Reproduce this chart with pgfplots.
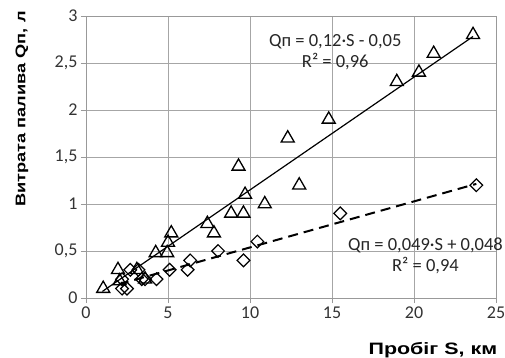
\documentclass[border=0pt]{standalone}
\usepackage{fontspec}
\setmainfont{Carlito}
\newfontfamily\labfont[FakeStretch=1.3]{Liberation Sans}
\usepackage{pgfplots}
\pgfplotsset{compat=1.18}
\begin{document}
\begin{tikzpicture}
\begin{axis}[
  scale only axis, width=410pt, height=282pt,
  xmin=0, xmax=25, ymin=0, ymax=3,
  xtick={0,5,...,25}, ytick={0,0.5,...,3},
  xtick pos=bottom, ytick pos=left,
  grid=major, grid style={draw=black!35, line width=0.8pt},
  axis line style={draw=black!40, line width=0.8pt},
  tick style={draw=black!40, line width=0.8pt},
  tick align=outside, major tick length=5pt,
  /pgf/number format/.cd, use comma, assume math mode=true, /pgfplots/.cd,
  ticklabel style={font=\fontsize{18}{18}\selectfont, color=black!80},
  xlabel={Пробіг S, км}, ylabel={Витрата палива Qп, л},
  xlabel style={font=\labfont\bfseries\fontsize{16.5}{16.5}\selectfont, at={(axis description cs:0.846,-0.184)}, anchor=center},
  ylabel style={font=\labfont\bfseries\fontsize{14}{14}\selectfont, at={(axis description cs:-0.156,0.670)}, anchor=center},
  clip=false,
]
\coordinate (bl) at (rel axis cs:0,0);
\coordinate (tr) at (rel axis cs:1,1);
% trend lines
\addplot[black, line width=1.2pt] coordinates {(1.0,0.07) (23.6,2.782)};
\addplot[black, line width=2pt, dash pattern=on 10pt off 6pt] coordinates {(2.0,0.146) (23.8,1.214)};
% triangles
\addplot[only marks, mark=triangle, mark size=7.5pt, mark options={black, line width=1.3pt, solid, fill=none}] coordinates {
(1.05,0.1) (1.95,0.3) (2.05,0.18) (3.1,0.3) (3.6,0.2) (4.25,0.48) (4.95,0.48) (5.0,0.59) (5.2,0.69)
(7.4,0.79) (7.8,0.69) (8.85,0.9) (9.6,0.9) (9.7,1.1) (9.3,1.4) (10.9,1.0) (12.3,1.7) (13.0,1.2)
(14.8,1.9) (18.95,2.3) (20.3,2.4) (21.2,2.6) (23.6,2.8)};
% diamonds
\addplot[only marks, mark=square, mark size=4.5pt, mark options={black, line width=1.2pt, solid, fill=none, rotate=45}] coordinates {
(2.2,0.1) (2.5,0.1) (2.2,0.2) (2.7,0.3) (3.2,0.3) (3.4,0.2) (3.6,0.2) (4.3,0.2) (5.1,0.3) (6.2,0.3)
(6.35,0.4) (8.05,0.5) (9.6,0.4) (10.45,0.6) (15.5,0.9) (23.8,1.2)};
\node[align=center, font=\fontsize{18.5}{21}\selectfont, color=black!85] at (axis cs:15.2,2.61) {Qп = 0,12·S - 0,05\\R² = 0,96};
\node[align=center, font=\fontsize{18.5}{21}\selectfont, color=black!85] at (axis cs:20.7,0.445) {Qп = 0,049·S + 0,048\\R² = 0,94};
\end{axis}
\pgfresetboundingbox
\path ([shift={(-86pt,-60pt)}]bl) rectangle ([shift={(9pt,16pt)}]tr);
\end{tikzpicture}
\end{document}
